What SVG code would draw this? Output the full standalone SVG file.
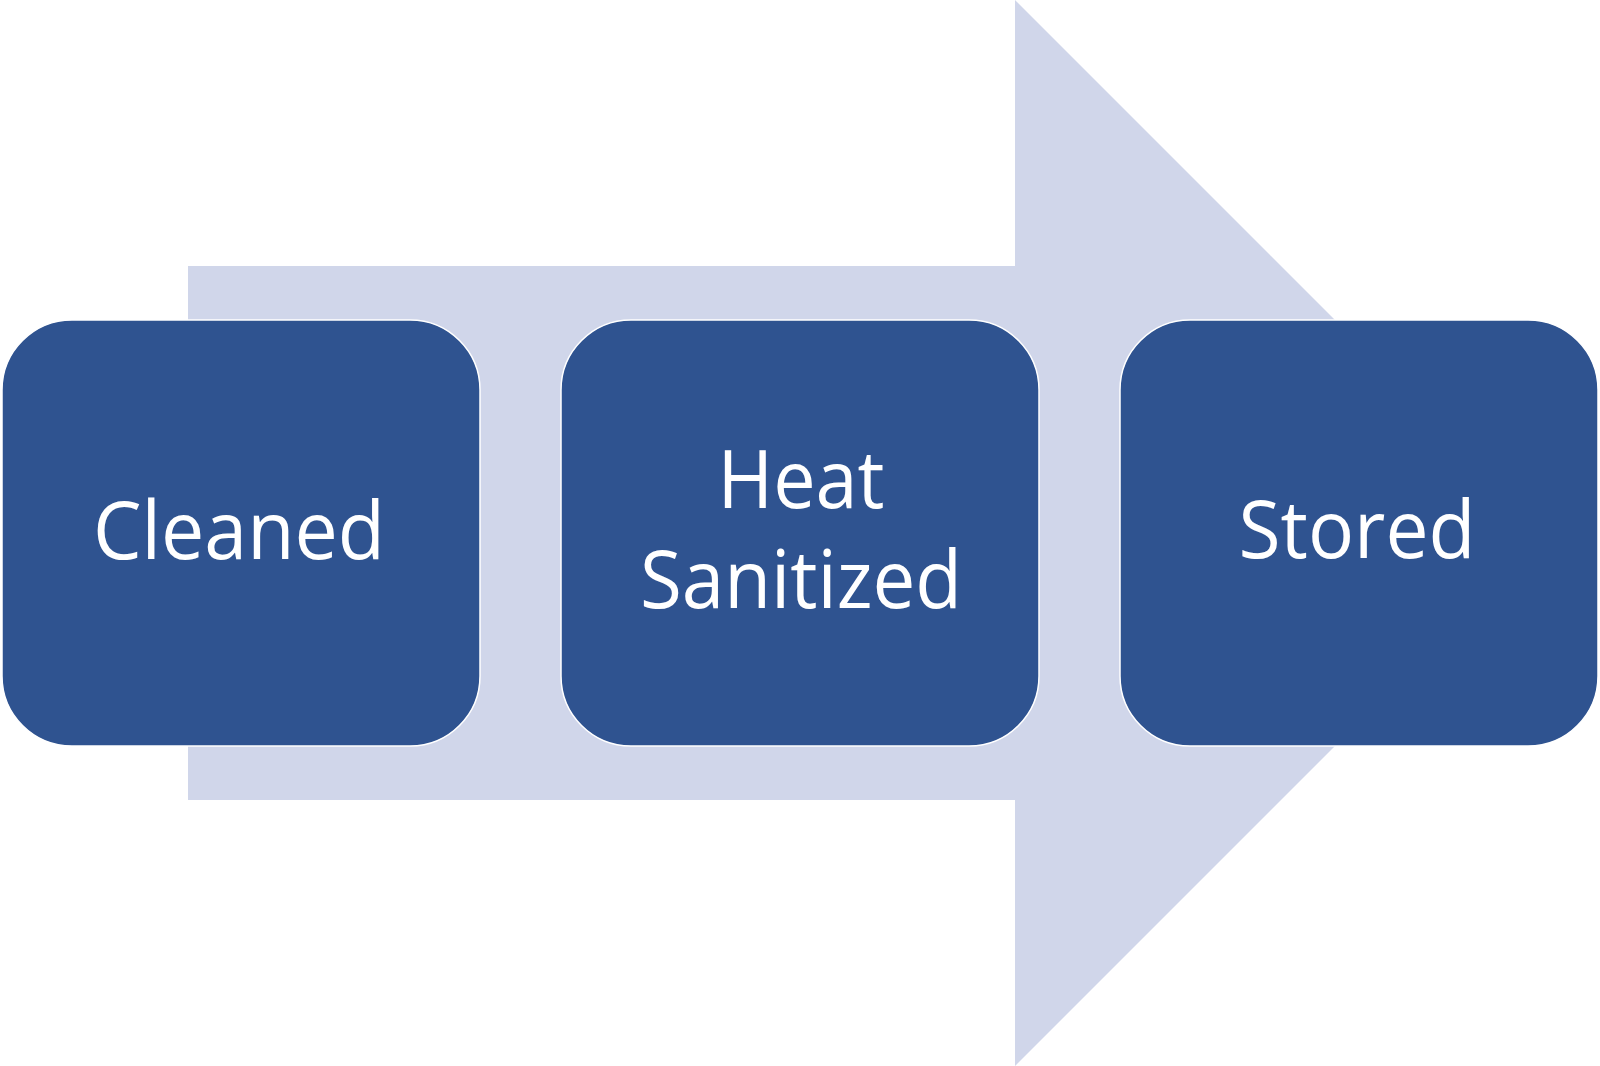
<svg xmlns="http://www.w3.org/2000/svg" width="1600" height="1066" viewBox="0 0 1600 1066">
<style>
.box{fill:#2F5390;stroke:#FFFFFF;stroke-width:1.5}
.lbl{font-family:"Open Sans","Noto Sans","DejaVu Sans",sans-serif;font-size:80px;fill:#FFFFFF;text-anchor:middle}
</style>
<rect width="1600" height="1066" fill="#FFFFFF"/>
<g id="connectors">
<polygon points="188,266 1015,266 1015,0 1548,533 1015,1066 1015,800 188,800" fill="#D0D6EA"/>
</g>
<g id="node-cleaned">
<rect class="box" x="2" y="320" width="478" height="426" rx="70" ry="70"/>
<text class="lbl" x="239" y="559" textLength="292" lengthAdjust="spacingAndGlyphs">Cleaned</text>
</g>
<g id="node-heat-sanitized">
<rect class="box" x="561" y="320" width="478" height="426" rx="70" ry="70"/>
<text class="lbl" x="801" y="508" textLength="167" lengthAdjust="spacingAndGlyphs">Heat</text>
<text class="lbl" x="801" y="608" textLength="322" lengthAdjust="spacingAndGlyphs">Sanitized</text>
</g>
<g id="node-stored">
<rect class="box" x="1120" y="320" width="478" height="426" rx="70" ry="70"/>
<text class="lbl" x="1357" y="558" textLength="237" lengthAdjust="spacingAndGlyphs">Stored</text>
</g>
</svg>
